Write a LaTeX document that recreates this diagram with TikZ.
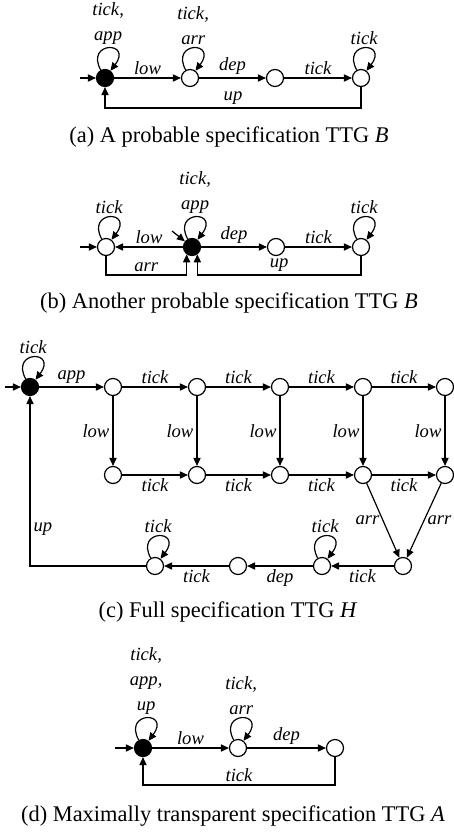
\documentclass[tikz,border=0pt]{standalone}
\usepackage{fontspec}
\setmainfont{Liberation Serif}
\usetikzlibrary{arrows.meta}

\begin{document}
\begin{tikzpicture}[x=0.5pt,y=-0.5pt,
  state/.style={circle,draw,line width=0.6pt,minimum size=8.5pt,inner sep=0pt},
  init/.style={state,fill=black},
  lbl/.style={font=\fontsize{9.3}{12.5}\selectfont\itshape,inner sep=1.5pt,align=center},
  caption/.style={font=\fontsize{11.2}{13}\selectfont},
  tr/.style={-{Triangle[length=4pt,width=3.6pt]},line width=0.6pt},
  selfloop/.style={tr,to path={.. controls +(-20,-37) and +(28,-37) .. (\tikztotarget) \tikztonodes}}]
\useasboundingbox (0,0) rectangle (454,834);

% (a) first probable B
\node[init] (a0) at (105,78) {};
\node[state] (a1) at (190,78) {};
\node[state] (a2) at (275,78) {};
\node[state] (a3) at (361,78) {};
\coordinate (a-start) at (80,78);
\draw[tr] (a-start) -- (a0);
\draw[tr] (a0) -- node[lbl,above] {low} (a1);
\draw[tr] (a1) -- node[lbl,above] {dep} (a2);
\draw[tr] (a2) -- node[lbl,above] {tick} (a3);
\draw[tr] (a3) -- ++(0,30) -| node[lbl,above,pos=0.25] {up} (a0);
\draw (a0) edge[selfloop] node[lbl,above] {tick,\\app} (a0);
\draw (a1) edge[selfloop] node[lbl,above] {tick,\\arr} (a1);
\draw (a3) edge[selfloop] node[lbl,above] {tick} (a3);
\node[caption] (cap-a) at (229,137) {(a) A probable specification TTG \textit{B}};

% (b) second probable B
\node[state] (b0) at (106,247) {};
\node[init] (b1) at (192,247) {};
\node[state] (b2) at (276,247) {};
\node[state] (b3) at (361,247) {};
\coordinate (b-start) at (80,247);
\coordinate (b-start2) at (172,231);
\draw[tr] (b-start) -- (b0);
\draw[tr] (b-start2) -- (b1);
\draw[tr] (b1) -- node[lbl,above] {low} (b0);
\draw[tr] (b1) -- node[lbl,above] {dep} (b2);
\draw[tr] (b2) -- node[lbl,above] {tick} (b3);
\draw[tr] (b0) -- ++(0,28) -| node[lbl,above,pos=0.25] {arr} (b1.-126);
\draw[tr] (b3) -- ++(0,28) -| node[lbl,above,pos=0.25] {up} (b1.-54);
\draw (b0) edge[selfloop] node[lbl,above] {tick} (b0);
\draw (b1) edge[selfloop] node[lbl,above] {tick,\\app} (b1);
\draw (b3) edge[selfloop] node[lbl,above] {tick} (b3);
\node[caption] (cap-b) at (229,303) {(b) Another probable specification TTG \textit{B}};

% (c) full H
\node[init] (c0) at (30,387) {};
\foreach \i/\x in {1/113,2/197,3/280,4/363,5/445} {
  \node[state] (t\i) at (\x,387) {};
  \node[state] (m\i) at (\x,475) {};
  \draw[tr] (t\i) -- node[lbl,left] {low} (m\i);
}
\foreach \i/\j in {1/2,2/3,3/4,4/5} {
  \draw[tr] (t\i) -- node[lbl,above] {tick} (t\j);
  \draw[tr] (m\i) -- node[lbl,below] {tick} (m\j);
}
\node[state] (r1) at (155,566) {};
\node[state] (r2) at (238,566) {};
\node[state] (r3) at (322,566) {};
\node[state] (r4) at (403,566) {};
\coordinate (c-start) at (5,387);
\draw[tr] (c-start) -- (c0);
\draw[tr] (c0) -- node[lbl,above] {app} (t1);
\draw[tr] (m4) -- node[lbl,left] {arr} (r4);
\draw[tr] (m5) -- node[lbl,right] {arr} (r4);
\draw[tr] (r4) -- node[lbl,below] {tick} (r3);
\draw[tr] (r3) -- node[lbl,below] {dep} (r2);
\draw[tr] (r2) -- node[lbl,below] {tick} (r1);
\draw[tr] (r1) -| node[lbl,right,pos=0.61] {up} (c0);
\draw (c0) edge[selfloop] node[lbl,above] {tick} (c0);
\draw (r1) edge[selfloop] node[lbl,above] {tick} (r1);
\draw (r3) edge[selfloop] node[lbl,above] {tick} (r3);
\node[caption] (cap-c) at (228,612) {(c) Full specification TTG \textit{H}};

% (d) maximally transparent A
\node[init] (d0) at (143,748) {};
\node[state] (d1) at (238,748) {};
\node[state] (d2) at (335,748) {};
\coordinate (d-start) at (115,748);
\draw[tr] (d-start) -- (d0);
\draw[tr] (d0) -- node[lbl,above] {low} (d1);
\draw[tr] (d1) -- node[lbl,above] {dep} (d2);
\draw[tr] (d2) -- ++(0,37) -| node[lbl,above,pos=0.25] {tick} (d0);
\draw (d0) edge[selfloop] node[lbl,above] {tick,\\app,\\up} (d0);
\draw (d1) edge[selfloop] node[lbl,above] {tick,\\arr} (d1);
\node[caption] (cap-d) at (233,816) {(d) Maximally transparent specification TTG \textit{A}};
\end{tikzpicture}
\end{document}
